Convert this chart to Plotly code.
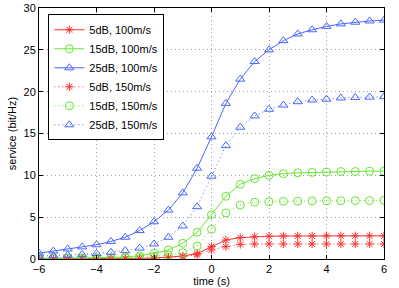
import plotly.graph_objects as go

time_s = [-6, -5.5, -5, -4.5, -4, -3.5, -3, -2.5, -2, -1.5, -1, -0.5, 0,
          0.5, 1, 1.5, 2, 2.5, 3, 3.5, 4, 4.5, 5, 5.5, 6]

red_100 = [0.02, 0.02, 0.03, 0.03, 0.04, 0.05, 0.06, 0.08, 0.12, 0.2, 0.35, 0.65, 1.48,
           2.27, 2.55, 2.67, 2.72, 2.75, 2.75, 2.76, 2.77, 2.77, 2.77, 2.77, 2.77]
green_100 = [0.1, 0.1, 0.12, 0.13, 0.15, 0.18, 0.25, 0.38, 0.68, 1.08, 1.88, 3.19, 5.3,
             7.5, 8.93, 9.6, 10.0, 10.2, 10.3, 10.35, 10.4, 10.45, 10.45, 10.5, 10.5]
blue_100 = [0.7, 0.95, 1.2, 1.45, 1.7, 2.1, 2.6, 3.4, 4.45, 5.85, 7.9, 10.85, 14.6,
            18.6, 21.5, 23.6, 25.0, 26.1, 26.9, 27.4, 27.8, 28.1, 28.3, 28.45, 28.55]
red_150 = [0.01, 0.01, 0.02, 0.02, 0.03, 0.03, 0.04, 0.06, 0.08, 0.15, 0.28, 0.5, 1.08,
           1.48, 1.75, 1.8, 1.8, 1.8, 1.8, 1.8, 1.8, 1.8, 1.8, 1.8, 1.8]
green_150 = [0.05, 0.05, 0.06, 0.07, 0.08, 0.1, 0.13, 0.2, 0.3, 0.48, 0.75, 1.55, 3.55,
             5.5, 6.45, 6.8, 6.85, 6.9, 6.92, 6.94, 6.95, 6.96, 6.97, 6.98, 7.0]
blue_150 = [0.35, 0.4, 0.45, 0.55, 0.65, 0.8, 1.0, 1.3, 1.8, 2.6, 3.95, 6.25, 9.9,
            13.55, 15.75, 17.1, 17.9, 18.4, 18.8, 19.0, 19.1, 19.25, 19.3, 19.35, 19.4]

names = ["5dB, 100m/s", "15dB, 100m/s", "25dB, 100m/s",
         "5dB, 150m/s", "15dB, 150m/s", "25dB, 150m/s"]
series = [red_100, green_100, blue_100, red_150, green_150, blue_150]

RED = "#ff3030"
GREEN = "#66e833"
BLUE = "#4a66ff"
colors = [RED, GREEN, BLUE, RED, GREEN, BLUE]
symbols = ["asterisk-open", "circle-open", "triangle-up-open"] * 2
dashes = ["solid"] * 3 + ["1px,3px"] * 3

FONT = "Liberation Sans, Arial, sans-serif"

fig = go.Figure()
for name, ys, c, s, d in zip(names, series, colors, symbols, dashes):
    fig.add_trace(go.Scatter(
        x=time_s, y=ys, name=name, mode="lines+markers",
        line=dict(color=c, width=1, dash=d),
        marker=dict(symbol=s, size=8 if s != "asterisk-open" else 7,
                    color=c, line=dict(color=c, width=1)),
    ))

axis_common = dict(
    showline=True, linecolor="black", linewidth=1, mirror="ticks",
    ticks="inside", ticklen=4, tickcolor="black",
    showgrid=True, gridcolor="#a0a0a0", griddash="1px,3px", gridwidth=1,
    zeroline=False, automargin=False,
    tickfont=dict(family=FONT, size=11, color="black"),
)

fig.update_xaxes(range=[-6, 6], tickvals=[-6, -4, -2, 0, 2, 4, 6],
                 ticktext=["\u22126", "\u22124", "\u22122", "0", "2", "4", "6"],
                 title=dict(text="time (s)", standoff=2,
                            font=dict(family=FONT, size=11, color="black")),
                 **axis_common)
fig.update_yaxes(range=[0, 30], tickvals=[0, 5, 10, 15, 20, 25, 30],
                 title=dict(text="service (bit/Hz)", standoff=4,
                            font=dict(family=FONT, size=11, color="black")),
                 **axis_common)

fig.update_layout(
    width=399, height=288,
    margin=dict(l=39, r=15, t=8, b=29, autoexpand=False),
    plot_bgcolor="white", paper_bgcolor="white",
    font=dict(family=FONT, size=11, color="black"),
    legend=dict(x=0.027, y=0.975, xanchor="left", yanchor="top",
                bgcolor="white", bordercolor="black", borderwidth=1,
                font=dict(size=11), itemwidth=30, tracegroupgap=0),
    showlegend=True,
)

fig.write_html("out.html", config={"displayModeBar": False},
               post_script="document.body.style.margin='0';")
